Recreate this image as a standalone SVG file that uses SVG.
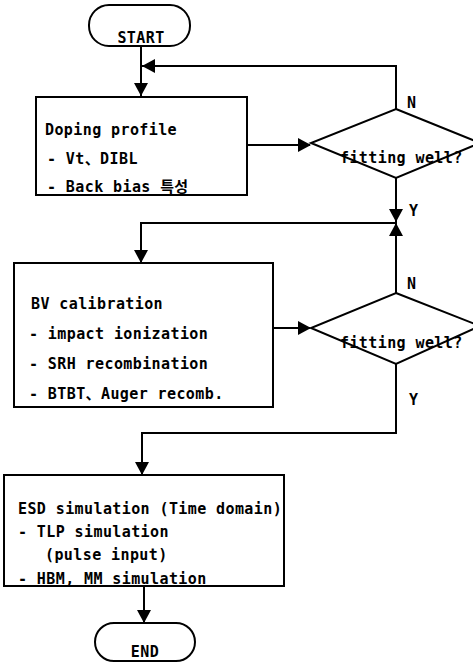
<svg xmlns="http://www.w3.org/2000/svg" width="473" height="663" viewBox="0 0 473 663">
  <style>
    .shape { fill: #fff; stroke: #000; stroke-width: 2; }
    .line { fill: none; stroke: #000; stroke-width: 2; }
    .head { fill: #000; stroke: none; }
    text { font-family: "DejaVu Sans Mono", "Liberation Mono", "Noto Sans CJK KR", monospace; font-size: 15px; font-weight: bold; letter-spacing: 0.4px; fill: #000; }
    .mid { text-anchor: middle; }
  </style>
  <defs>
    <polygon id="down" points="-7,-13 7,-13 0,0"/>
    <polygon id="up" points="-7,13 7,13 0,0"/>
    <polygon id="left" points="13,-7 13,7 0,0"/>
    <polygon id="right" points="-13,-7 -13,7 0,0"/>
  </defs>

  <rect width="473" height="663" fill="#fff"/>

  <!-- connectors -->
  <g id="connectors">
    <path class="line" d="M141,46 V96"/>
    <path class="line" d="M396,109 V66 H141"/>
    <path class="line" d="M247,145 H310"/>
    <path class="line" d="M396,178 V223"/>
    <path class="line" d="M396,293 V223 H141 V262"/>
    <path class="line" d="M273,328 H310"/>
    <path class="line" d="M396,364 V433 H142 V474"/>
    <path class="line" d="M144,586 V622"/>
    <g class="head">
      <use href="#down" x="141" y="96"/>
      <use href="#left" x="142" y="66"/>
      <use href="#right" x="311" y="145"/>
      <use href="#down" x="396" y="222"/>
      <use href="#up" x="396" y="223"/>
      <use href="#down" x="141" y="263"/>
      <use href="#right" x="311" y="328"/>
      <use href="#down" x="142" y="475"/>
      <use href="#down" x="144" y="623"/>
    </g>
    <text x="407" y="108">N</text>
    <text x="409" y="216">Y</text>
    <text x="407" y="289">N</text>
    <text x="409" y="405">Y</text>
  </g>

  <!-- start terminal -->
  <g id="start">
    <rect class="shape" x="89" y="5" width="101" height="41" rx="20"/>
    <text class="mid" x="141" y="43">START</text>
  </g>

  <!-- doping profile step -->
  <g id="doping">
    <rect class="shape" x="36" y="97" width="211" height="98"/>
    <text x="45" y="135">Doping profile</text>
    <text x="47" y="164">- Vt、DIBL</text>
    <text x="47" y="192">- Back bias 특성</text>
  </g>

  <!-- first check -->
  <g id="check1">
    <polygon class="shape" points="396,109 480,143 396,178 311,143"/>
    <text x="340" y="163">fitting well?</text>
  </g>

  <!-- BV calibration step -->
  <g id="bv">
    <rect class="shape" x="14" y="263" width="259" height="144"/>
    <text x="31" y="309">BV calibration</text>
    <text x="29" y="339">- impact ionization</text>
    <text x="29" y="369">- SRH recombination</text>
    <text x="29" y="399">- BTBT、Auger recomb.</text>
  </g>

  <!-- second check -->
  <g id="check2">
    <polygon class="shape" points="396,293 480,326 396,364 311,328"/>
    <text x="340" y="348">fitting well?</text>
  </g>

  <!-- ESD simulation step -->
  <g id="esd">
    <rect class="shape" x="4" y="475" width="280" height="111"/>
    <text x="18" y="514">ESD simulation (Time domain)</text>
    <text x="18" y="537">- TLP simulation</text>
    <text x="45" y="560">(pulse input)</text>
    <text x="18" y="584">- HBM, MM simulation</text>
  </g>

  <!-- end terminal -->
  <g id="end">
    <rect class="shape" x="95" y="623" width="100" height="38" rx="19"/>
    <text class="mid" x="145" y="657">END</text>
  </g>
</svg>
